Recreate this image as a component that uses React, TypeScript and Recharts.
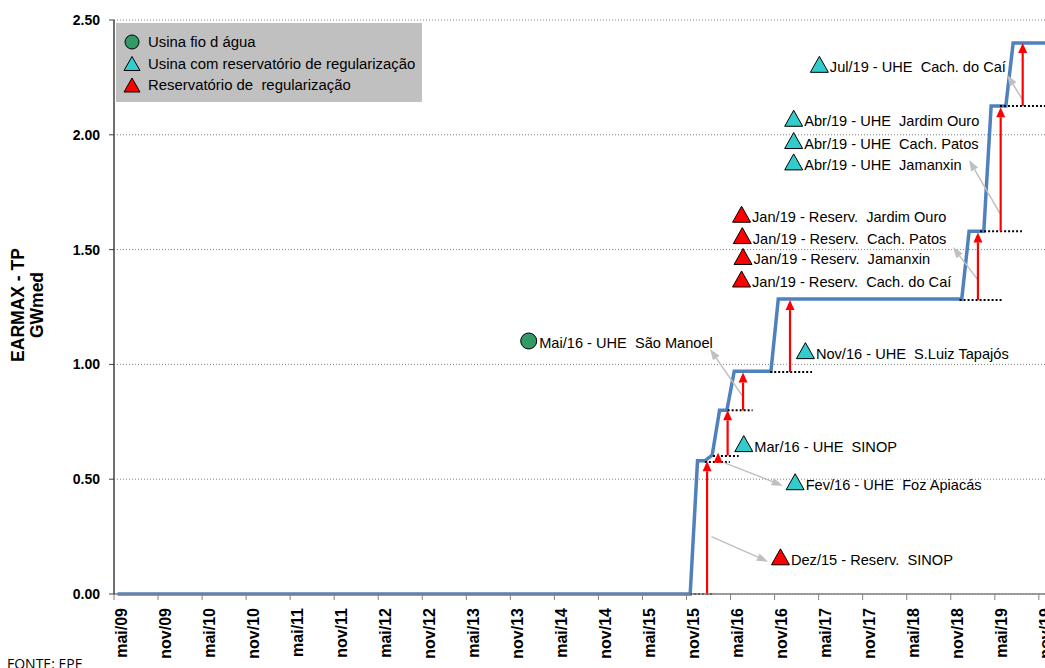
import {
  ComposedChart,
  Line,
  Scatter,
  XAxis,
  YAxis,
  CartesianGrid,
  ReferenceLine,
  Legend,
} from 'recharts';

// EARMAX mensal do Tapajós (GWmed), de mai/09 a dez/19
const earmax2009 = [0, 0, 0, 0, 0, 0, 0, 0]; // mai-dez
const earmax2010 = [0, 0, 0, 0, 0, 0, 0, 0, 0, 0, 0, 0];
const earmax2011 = [0, 0, 0, 0, 0, 0, 0, 0, 0, 0, 0, 0];
const earmax2012 = [0, 0, 0, 0, 0, 0, 0, 0, 0, 0, 0, 0];
const earmax2013 = [0, 0, 0, 0, 0, 0, 0, 0, 0, 0, 0, 0];
const earmax2014 = [0, 0, 0, 0, 0, 0, 0, 0, 0, 0, 0, 0];
const earmax2015 = [0, 0, 0, 0, 0, 0, 0, 0, 0, 0, 0, 0.58];
const earmax2016 = [0.58, 0.605, 0.8, 0.8, 0.97, 0.97, 0.97, 0.97, 0.97, 0.97, 1.285, 1.285];
const earmax2017 = [1.285, 1.285, 1.285, 1.285, 1.285, 1.285, 1.285, 1.285, 1.285, 1.285, 1.285, 1.285];
const earmax2018 = [1.285, 1.285, 1.285, 1.285, 1.285, 1.285, 1.285, 1.285, 1.285, 1.285, 1.285, 1.285];
const earmax2019 = [1.58, 1.58, 1.58, 2.125, 2.125, 2.125, 2.4, 2.4, 2.4, 2.4, 2.4, 2.4];

const tickLabels = [
  'mai/09', 'nov/09', 'mai/10', 'nov/10', 'mai/11', 'nov/11', 'mai/12', 'nov/12',
  'mai/13', 'nov/13', 'mai/14', 'nov/14', 'mai/15', 'nov/15', 'mai/16', 'nov/16',
  'mai/17', 'nov/17', 'mai/18', 'nov/18', 'mai/19', 'nov/19',
];
const yTicks = [0, 0.5, 1, 1.5, 2, 2.5];

// marcadores (m = meses desde mai/09, v = GWmed)
const usinaFio = [{ m: 56.5, v: 1.102, label: 'Mai/16 - UHE  São Manoel' }];
const usinaReserv = [
  { m: 94.2, v: 1.06, label: 'Nov/16 - UHE  S.Luiz Tapajós' },
  { m: 85.8, v: 0.655, label: 'Mar/16 - UHE  SINOP' },
  { m: 92.8, v: 0.489, label: 'Fev/16 - UHE  Foz Apiacás' },
  { m: 92.6, v: 2.072, label: 'Abr/19 - UHE  Jardim Ouro' },
  { m: 92.6, v: 1.975, label: 'Abr/19 - UHE  Cach. Patos' },
  { m: 92.6, v: 1.882, label: 'Abr/19 - UHE  Jamanxin' },
  { m: 96.1, v: 2.307, label: 'Jul/19 - UHE  Cach. do Caí' },
];
const reservatorios = [
  { m: 90.8, v: 0.162, label: 'Dez/15 - Reserv.  SINOP' },
  { m: 85.5, v: 1.654, label: 'Jan/19 - Reserv.  Jardim Ouro' },
  { m: 85.6, v: 1.561, label: 'Jan/19 - Reserv.  Cach. Patos' },
  { m: 85.7, v: 1.47, label: 'Jan/19 - Reserv.  Jamanxin' },
  { m: 85.5, v: 1.372, label: 'Jan/19 - Reserv.  Cach. do Caí' },
];

// setas vermelhas (acréscimo de EARMAX)
const setasVermelhas = [
  { m: 80.8, de: 0, ate: 0.578 },
  { m: 82.3, de: 0.575, ate: 0.615 },
  { m: 83.6, de: 0.603, ate: 0.8 },
  { m: 85.7, de: 0.8, ate: 0.965 },
  { m: 92.1, de: 0.967, ate: 1.28 },
  { m: 117.7, de: 1.28, ate: 1.575 },
  { m: 120.8, de: 1.58, ate: 2.12 },
  { m: 123.8, de: 2.125, ate: 2.4 },
];

// linhas pontilhadas (nível anterior)
const pontilhadas = [
  { v: 0, de: 78.5, ate: 81.6 },
  { v: 0.575, de: 80.5, ate: 83.9 },
  { v: 0.601, de: 81.6, ate: 85.1 },
  { v: 0.8, de: 83.6, ate: 87.0 },
  { v: 0.967, de: 89.4, ate: 95.1 },
  { v: 1.28, de: 115.2, ate: 121.0 },
  { v: 1.58, de: 118.0, ate: 123.7 },
  { v: 2.125, de: 120.7, ate: 127.5 },
];

// setas cinza (ligam texto ao evento)
const setasCinza = [
  { m1: 81.4, v1: 0.25, m2: 89.1, v2: 0.141 },
  { m1: 83.2, v1: 0.571, m2: 91.1, v2: 0.472 },
  { m1: 85.8, v1: 0.854, m2: 81.2, v2: 1.067 },
  { m1: 117.7, v1: 1.368, m2: 114.3, v2: 1.511 },
  { m1: 120.7, v1: 1.658, m2: 116.5, v2: 1.89 },
  { m1: 123.8, v1: 2.152, m2: 121.7, v2: 2.26 },
];

const legendItems = [
  { name: 'Usina fio d água', kind: 'circle', color: '#339966' },
  { name: 'Usina com reservatório de regularização', kind: 'tri', color: '#33CCCC' },
  { name: 'Reservatório de  regularização', kind: 'tri', color: '#FF0000' },
];

const allValues = [
  ...earmax2009, ...earmax2010, ...earmax2011, ...earmax2012, ...earmax2013, ...earmax2014,
  ...earmax2015, ...earmax2016, ...earmax2017, ...earmax2018, ...earmax2019,
];
const chartData = allValues.map((v, i) => ({ m: i + 0.5, earmax: v }));
const xTicks = tickLabels.map((_, k) => k * 6);

const FONT = '"Liberation Sans", Arial, sans-serif';

const drawArrow = (
  x1: number, y1: number, x2: number, y2: number,
  color: string, width: number, headLen: number, headW: number,
) => {
  const dx = x2 - x1;
  const dy = y2 - y1;
  const len = Math.hypot(dx, dy) || 1;
  const ux = dx / len;
  const uy = dy / len;
  const bx = x2 - ux * headLen;
  const by = y2 - uy * headLen;
  const px = -uy * (headW / 2);
  const py = ux * (headW / 2);
  return (
    <g>
      <line x1={x1} y1={y1} x2={bx} y2={by} stroke={color} strokeWidth={width} />
      <polygon points={`${x2},${y2} ${bx + px},${by + py} ${bx - px},${by - py}`} fill={color} />
    </g>
  );
};

const triangleShape = (fill: string) => (props: any) => {
  const { cx, cy, payload } = props;
  return (
    <g>
      <polygon
        points={`${cx},${cy - 8} ${cx + 9},${cy + 8} ${cx - 9},${cy + 8}`}
        fill={fill}
        stroke="#000"
        strokeWidth={1}
      />
      <text x={cx + 10.5} y={cy + 8} fontSize={14.6} fill="#000" xmlSpace="preserve" style={{ whiteSpace: 'pre' }}>
        {payload.label}
      </text>
    </g>
  );
};

const circleShape = (props: any) => {
  const { cx, cy, payload } = props;
  return (
    <g>
      <circle cx={cx} cy={cy} r={8} fill="#339966" stroke="#000" strokeWidth={1} />
      <text x={cx + 10.5} y={cy + 7} fontSize={14.6} fill="#000" xmlSpace="preserve" style={{ whiteSpace: 'pre' }}>
        {payload.label}
      </text>
    </g>
  );
};

const XTick = (props: any) => {
  const { x, payload } = props;
  const idx = xTicks.indexOf(payload.value);
  const bx = x + 12.5;
  return (
    <text
      x={bx}
      y={608}
      transform={`rotate(-90, ${bx}, 608)`}
      textAnchor="end"
      fontSize={16}
      fontWeight="bold"
      fill="#000"
    >
      {tickLabels[idx]}
    </text>
  );
};

const YLabel = (props: any) => {
  const { viewBox } = props;
  const cy = viewBox.y + viewBox.height / 2 - 2;
  return (
    <g fontSize={17.5} fontWeight="bold" fill="#000">
      <text x={24} y={cy} transform={`rotate(-90, 24, ${cy})`} textAnchor="middle">
        EARMAX - TP
      </text>
      <text x={43} y={cy} transform={`rotate(-90, 43, ${cy})`} textAnchor="middle">
        GWmed
      </text>
    </g>
  );
};

const LegendBox = () => (
  <svg width={306} height={79} style={{ display: 'block' }}>
    <rect x={0} y={0} width={306} height={79} fill="#C0C0C0" />
    {legendItems.map((item, k) => {
      const cy = 19 + k * 21.5;
      return (
        <g key={item.name}>
          {item.kind === 'circle' ? (
            <circle cx={16} cy={cy} r={7} fill={item.color} stroke="#000" strokeWidth={1} />
          ) : (
            <polygon
              points={`16,${cy - 7} 24,${cy + 7} 8,${cy + 7}`}
              fill={item.color}
              stroke="#000"
              strokeWidth={1}
            />
          )}
          <text
            x={32}
            y={cy + 5}
            fontSize={14.9}
            fill="#000"
            fontFamily={FONT}
            xmlSpace="preserve"
            style={{ whiteSpace: 'pre' }}
          >
            {item.name}
          </text>
        </g>
      );
    })}
  </svg>
);

const App = () => {
  return (
    <div
      style={{
        position: 'absolute',
        left: 0,
        top: 0,
        width: 1045,
        height: 668,
        overflow: 'hidden',
        background: '#fff',
        fontFamily: FONT,
      }}
    >
      <ComposedChart
        width={1060}
        height={668}
        data={chartData}
        margin={{ top: 20, right: 6.48, bottom: 0, left: 0 }}
        style={{ fontFamily: FONT }}
      >
        <CartesianGrid horizontal vertical={false} stroke="#7f7f7f" strokeDasharray="1 2" />
        <XAxis
          type="number"
          dataKey="m"
          domain={[0, 128]}
          allowDataOverflow
          ticks={xTicks}
          interval={0}
          height={74}
          tickSize={6}
          tick={<XTick />}
          axisLine={{ stroke: '#808080', strokeWidth: 1.5 }}
          tickLine={{ stroke: '#808080' }}
        />
        <YAxis
          type="number"
          domain={[0, 2.5]}
          ticks={yTicks}
          interval={0}
          width={114}
          tickSize={5}
          tickMargin={9}
          tickFormatter={(v: number) => v.toFixed(2)}
          tick={{ fontSize: 14, fontWeight: 'bold', fill: '#000' }}
          axisLine={{ stroke: '#404040', strokeWidth: 1.5 }}
          tickLine={{ stroke: '#404040' }}
          label={{ content: <YLabel /> }}
        />
        <Legend
          layout="vertical"
          align="center"
          verticalAlign="middle"
          wrapperStyle={{ left: 116, top: 23, width: 306, height: 79 }}
          content={() => <LegendBox />}
        />
        <Line
          dataKey="earmax"
          type="linear"
          stroke="#4F81BD"
          strokeWidth={3.5}
          dot={false}
          legendType="none"
          isAnimationActive={false}
        />
        {pontilhadas.map((p, k) => (
          <ReferenceLine
            key={`p${k}`}
            segment={[{ x: p.de, y: p.v }, { x: p.ate, y: p.v }]}
            stroke="#000"
            strokeWidth={2}
            strokeDasharray="2 2"
            ifOverflow="visible"
          />
        ))}
        {setasCinza.map((s, k) => (
          <ReferenceLine
            key={`c${k}`}
            segment={[{ x: s.m1, y: s.v1 }, { x: s.m2, y: s.v2 }]}
            ifOverflow="visible"
            shape={(p: any) => drawArrow(p.x1, p.y1, p.x2, p.y2, '#BFBFBF', 1.5, 11, 8)}
          />
        ))}
        {setasVermelhas.map((s, k) => (
          <ReferenceLine
            key={`r${k}`}
            segment={[{ x: s.m, y: s.de }, { x: s.m, y: s.ate }]}
            ifOverflow="visible"
            shape={(p: any) => drawArrow(p.x1, p.y1, p.x2, p.y2, '#FF0000', 2.2, 10, 9)}
          />
        ))}
        <Scatter
          name="Usina fio d água"
          data={usinaFio}
          dataKey="v"
          shape={circleShape}
          isAnimationActive={false}
        />
        <Scatter
          name="Usina com reservatório de regularização"
          data={usinaReserv}
          dataKey="v"
          shape={triangleShape('#33CCCC')}
          isAnimationActive={false}
        />
        <Scatter
          name="Reservatório de  regularização"
          data={reservatorios}
          dataKey="v"
          shape={triangleShape('#FF0000')}
          isAnimationActive={false}
        />
      </ComposedChart>
      <div
        style={{
          position: 'absolute',
          left: 7,
          top: 656,
          fontSize: 14,
          lineHeight: '16px',
          color: '#000',
          fontFamily: '"Open Sans", sans-serif',
        }}
      >
        FONTE: EPE
      </div>
    </div>
  );
};

export default App;
